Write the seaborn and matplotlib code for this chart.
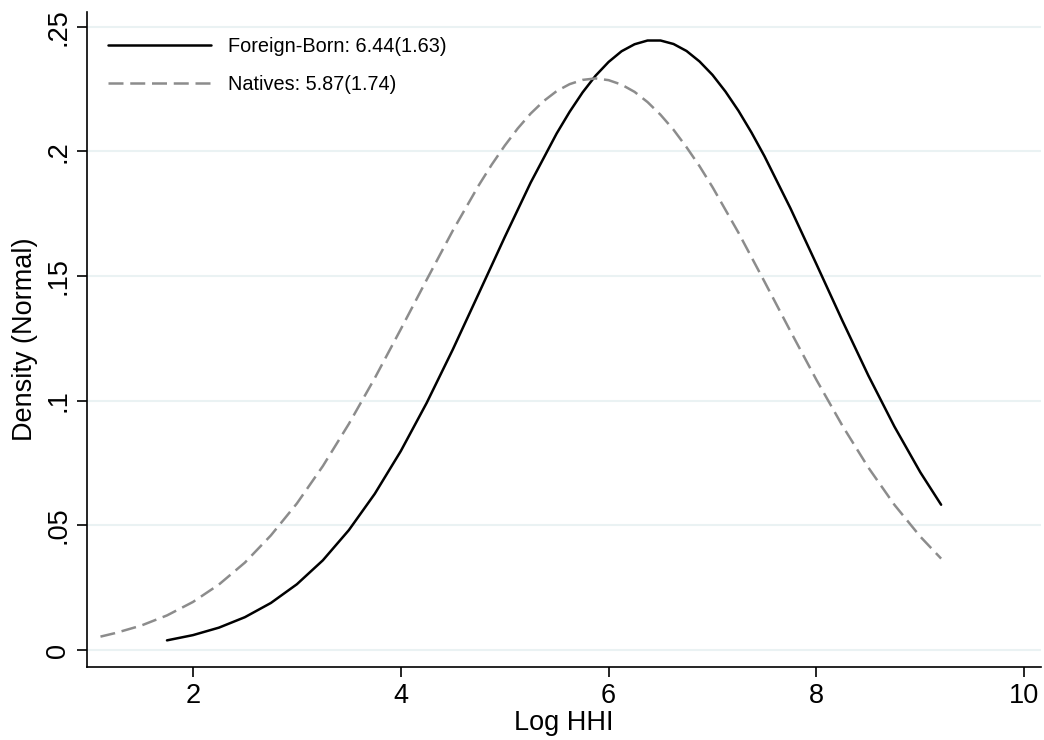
import matplotlib
matplotlib.use("Agg")
import matplotlib.pyplot as plt
import seaborn as sns
import pandas as pd

# Values
fb_x = [1.75, 2.0, 2.25, 2.5, 2.75, 3.0, 3.25, 3.5, 3.75, 4.0, 4.25, 4.5, 4.75, 5.0,
        5.25, 5.5, 5.625, 5.75, 5.875, 6.0, 6.125, 6.25, 6.375, 6.5, 6.625, 6.75, 6.875,
        7.0, 7.125, 7.25, 7.375, 7.5, 7.75, 8.0, 8.25, 8.5, 8.75, 9.0, 9.2]
fb_y = [0.0039, 0.0060, 0.0090, 0.0132, 0.0189, 0.0264, 0.0360, 0.0481, 0.0627, 0.0798,
        0.0992, 0.1205, 0.1430, 0.1656, 0.1875, 0.2072, 0.2159, 0.2237, 0.2304, 0.2359,
        0.2402, 0.2430, 0.2445, 0.2445, 0.2431, 0.2403, 0.2361, 0.2307, 0.2240, 0.2163,
        0.2076, 0.1981, 0.1772, 0.1548, 0.1321, 0.1101, 0.0897, 0.0713, 0.0583]
nat_x = [1.11, 1.25, 1.5, 1.75, 2.0, 2.25, 2.5, 2.75, 3.0, 3.25, 3.5, 3.75, 4.0, 4.25,
         4.5, 4.75, 4.875, 5.0, 5.125, 5.25, 5.375, 5.5, 5.625, 5.75, 5.875, 6.0, 6.125,
         6.25, 6.375, 6.5, 6.625, 6.75, 6.875, 7.0, 7.25, 7.5, 7.75, 8.0, 8.25, 8.5,
         8.75, 9.0, 9.2]
nat_y = [0.0054, 0.0068, 0.0098, 0.0139, 0.0193, 0.0263, 0.0351, 0.0460, 0.0588, 0.0738,
         0.0907, 0.1091, 0.1287, 0.1486, 0.1682, 0.1864, 0.1947, 0.2023, 0.2092, 0.2152,
         0.2202, 0.2242, 0.2270, 0.2287, 0.2293, 0.2286, 0.2268, 0.2239, 0.2198, 0.2147,
         0.2087, 0.2017, 0.1941, 0.1857, 0.1674, 0.1478, 0.1279, 0.1084, 0.0900, 0.0732,
         0.0583, 0.0455, 0.0367]
labels = ["Foreign-Born: 6.44(1.63)", "Natives: 5.87(1.74)"]
x_ticks = [2, 4, 6, 8, 10]
y_ticks = [0, 0.05, 0.1, 0.15, 0.2, 0.25]
y_tick_labels = ["0", ".05", ".1", ".15", ".2", ".25"]

sns.set_theme(style="white")
plt.rcParams['font.family'] = ['Liberation Sans', 'DejaVu Sans']
plt.rcParams['text.color'] = 'black'
plt.rcParams['axes.labelcolor'] = 'black'
plt.rcParams['xtick.color'] = 'black'
plt.rcParams['ytick.color'] = 'black'

fig = plt.figure(figsize=(10.44, 7.4), dpi=100)
ax = fig.add_axes([0.0833, 0.0986, 0.9137, 0.8854])

df_fb = pd.DataFrame({"x": fb_x, "y": fb_y})
df_nat = pd.DataFrame({"x": nat_x, "y": nat_y})

for yt in y_ticks:
    ax.axhline(yt, color="#eaf2f3", lw=1.5, zorder=0)

sns.lineplot(data=df_fb, x="x", y="y", ax=ax, color="black", lw=1.8, label=labels[0])
sns.lineplot(data=df_nat, x="x", y="y", ax=ax, color="#8c8c8c", lw=1.8,
             label=labels[1], dashes=False, linestyle=(0, (6, 2.7)))

ax.set_xlim(0.98, 10.16)
ax.set_ylim(-0.0068, 0.256)
ax.set_xticks(x_ticks)
ax.set_xticklabels([str(t) for t in x_ticks])
ax.set_yticks(y_ticks)
ax.set_yticklabels(y_tick_labels, rotation=90, va="center")
ax.tick_params(axis="both", which="major", length=7.2, width=1.2, color="black",
               labelsize=19.5, direction="out", bottom=True, left=True, pad=4)
ax.set_xlabel("Log HHI", fontsize=19.5, labelpad=1)
ax.set_ylabel("Density (Normal)", fontsize=19.5, labelpad=5)

for s in ["top", "right"]:
    ax.spines[s].set_visible(False)
for s in ["left", "bottom"]:
    ax.spines[s].set_color("black")
    ax.spines[s].set_linewidth(1.2)

ax.legend(loc="upper left", frameon=False, fontsize=14.3, handlelength=5.2,
          handletextpad=0.85, labelspacing=0.95, bbox_to_anchor=(0.022, 0.962),
          borderaxespad=0, borderpad=0)

fig.savefig("out.png", dpi=100)
